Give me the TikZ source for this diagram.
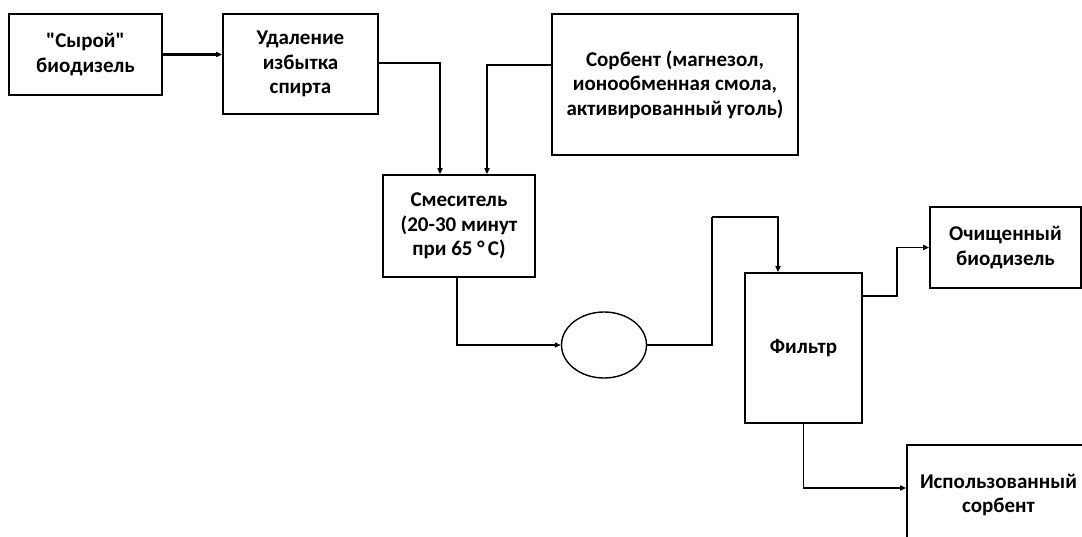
\documentclass[tikz,border=0pt]{standalone}
\usepackage{fontspec}
\setmainfont{Carlito}
\usetikzlibrary{arrows.meta,shapes.geometric}
\begin{document}
\begin{tikzpicture}[x=1pt,y=-1pt,
  box/.style={draw,line width=1.6pt,rectangle,align=center,inner sep=0pt,
    font=\fontsize{21}{24.5}\selectfont\bfseries},
  arr/.style={line width=1.5pt,-{Triangle[length=6pt,width=5pt]}},
  ln/.style={line width=1.5pt}]
\useasboundingbox (0,0) rectangle (1082,537);
\clip (0,0) rectangle (1082,537);
\node[box,minimum width=153pt,minimum height=81pt] (raw) at (85.5,54.5) {\textquotedbl Сырой\textquotedbl\\биодизель};
\node[box,minimum width=155pt,minimum height=100pt] (rem) at (300.5,64) {Удаление\\избытка\\спирта};
\node[box,minimum width=246pt,minimum height=141pt] (sorb) at (675,84.5) {Сорбент (магнезол,\\ионообменная смола,\\активированный уголь)};
\node[box,minimum width=152pt,minimum height=102pt] (mix) at (459,226) {Смеситель\\(20-30 минут\\при 65 °\,C)};
\node[draw,line width=1.4pt,ellipse,minimum width=85pt,minimum height=66pt,inner sep=0pt] (pump) at (604,345) {};
\node[box,minimum width=117pt,minimum height=150pt] (filt) at (803.5,348) {Фильтр};
\node[box,minimum width=151pt,minimum height=81pt] (clean) at (1005.5,247.5) {Очищенный\\биодизель};
\node[box,minimum width=183pt,minimum height=100pt] (used) at (998.5,495) {Использованный\\сорбент};
\coordinate (c1) at (712,217);
\draw[arr,line width=2.2pt] (raw.east) -- (raw.east -| rem.west);
\draw[arr] ([yshift=1pt]rem.east) -| ([xshift=-19pt]mix.north);
\draw[arr] ([yshift=19.5pt]sorb.west) -| ([xshift=28pt]mix.north);
\draw[arr] ([xshift=-2pt]mix.south) |- (pump.west);
\draw[ln] (pump.east) -| (c1);
\draw[arr] (c1) -| ([xshift=-25.5pt]filt.north);
\draw[arr] ([yshift=-24pt]filt.north east) -- ++(34pt,0) |- (clean.west);
\draw[arr] (filt.south) |- ([yshift=7pt]used.west);
\end{tikzpicture}
\end{document}
